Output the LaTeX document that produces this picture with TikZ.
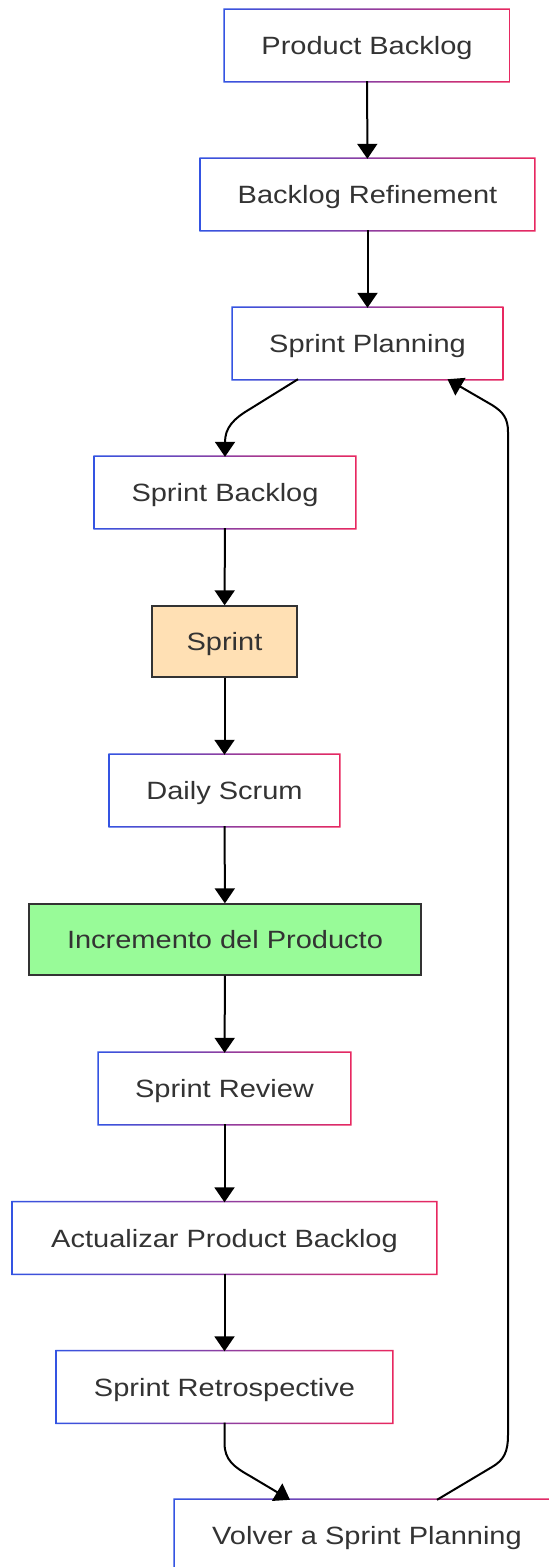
\documentclass[tikz,border=0pt]{standalone}
\usepackage{fontspec}
\setmainfont{Liberation Sans}[FakeStretch=1.16]
\usetikzlibrary{arrows.meta}
\definecolor{bl}{RGB}{52,84,226}
\definecolor{rd}{RGB}{232,40,96}
\definecolor{txt}{RGB}{51,51,51}
\definecolor{sprintfill}{RGB}{255,224,180}
\definecolor{greenfill}{RGB}{152,251,152}
\newcommand\gframe[1]{\shade[left color=bl,right color=rd,even odd rule]
  ([shift={(-1.4pt,-1.4pt)}]#1.south west) rectangle ([shift={(1.4pt,1.4pt)}]#1.north east)
  (#1.south west) rectangle (#1.north east);}
\tikzset{
  box/.style={rectangle, draw=none, fill=white, minimum height=71pt, inner sep=0pt,
    text height=18pt, text depth=0pt,
    text=txt, font=\fontsize{25}{30}\selectfont},
  solidbox/.style={rectangle, draw=txt, line width=1.4pt, minimum height=71pt, inner sep=0pt,
    text height=18pt, text depth=0pt,
    text=txt, font=\fontsize{25}{30}\selectfont},
  arr/.style={line width=2pt, -{Triangle[length=15pt,width=20pt]}}
}
\begin{document}
\begin{tikzpicture}[x=1pt,y=-1pt]
\useasboundingbox (0,0) rectangle (549,1567);
\clip (0,0) rectangle (549,1567);
\node[box, minimum width=284pt] (pb) at (367,45.5) {Product Backlog};
\node[box, minimum width=333pt] (br) at (367.5,194.5) {Backlog Refinement};
\node[box, minimum width=269pt] (sp) at (367.5,343.5) {Sprint Planning};
\node[box, minimum width=260pt] (sb) at (225,492.5) {Sprint Backlog};
\node[solidbox, fill=sprintfill, minimum width=145pt] (sr) at (224.5,641.5) {Sprint};
\node[box, minimum width=229pt] (ds) at (224.5,790.5) {Daily Scrum};
\node[solidbox, fill=greenfill, minimum width=392pt] (ip) at (225,939.5) {Incremento del Producto};
\node[box, minimum width=251pt] (rv) at (224.5,1088.5) {Sprint Review};
\node[box, minimum width=423pt] (ap) at (224.5,1238) {Actualizar Product Backlog};
\node[box, minimum width=335pt] (re) at (224.5,1387) {Sprint Retrospective};
\node[box, minimum width=384pt] (vo) at (367,1535.5) {Volver a Sprint Planning};
\gframe{pb}\gframe{br}\gframe{sp}\gframe{sb}\gframe{ds}\gframe{rv}\gframe{ap}\gframe{re}\gframe{vo}
\draw[arr] (pb) -- (br);
\draw[arr] (br) -- (sp);
\draw[arr] ([xshift=-69.5pt]sp.south) -- (250,409) .. controls (233,419) and (225,428) .. (sb.north);
\draw[arr] (sb) -- (sr);
\draw[arr] (sr) -- (ds);
\draw[arr] (ds) -- (ip);
\draw[arr] (ip) -- (rv);
\draw[arr] (rv) -- (ap);
\draw[arr] (ap) -- (re);
\draw[arr] (re.south) -- (224.5,1443) .. controls (224.5,1460) and (234,1467) .. (250,1476) -- ([xshift=-77pt]vo.north);
\draw[arr] ([xshift=70pt]vo.north) -- (492,1467) .. controls (504,1460) and (508,1452) .. (508,1435)
  -- (508,432) .. controls (508,418) and (503,412) .. (492,405) -- ([xshift=80pt]sp.south);
\end{tikzpicture}
\end{document}
